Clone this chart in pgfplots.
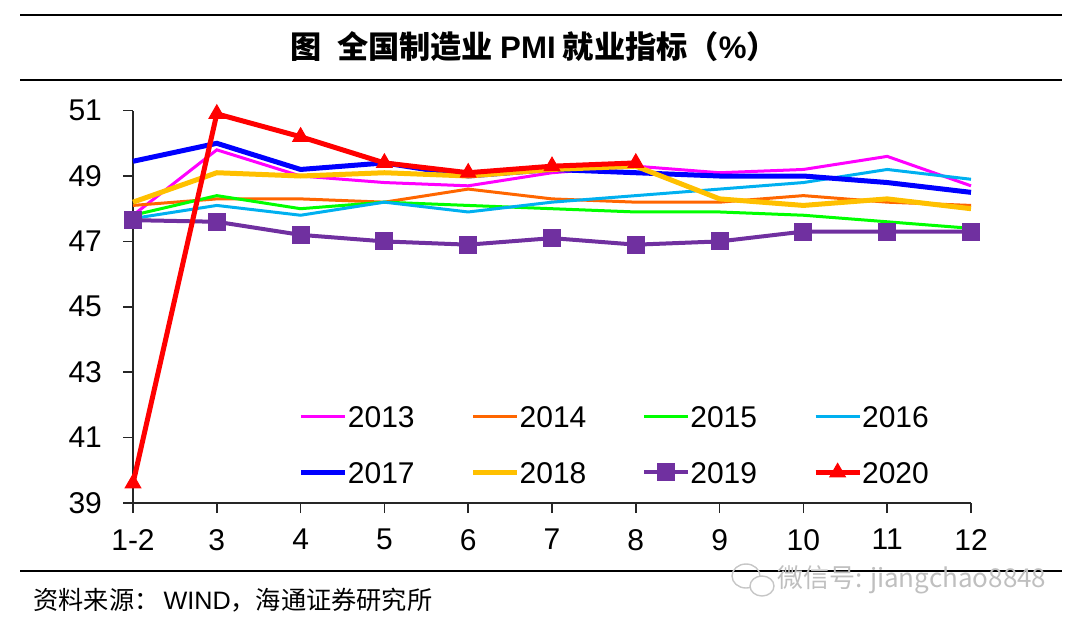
\documentclass[border=0pt]{standalone}
\usepackage{fontspec}
\setmainfont{Liberation Sans}
\newfontfamily\cjk{Noto Sans CJK SC}
\usepackage{pgfplots}
\pgfplotsset{compat=1.18}
\definecolor{c13}{HTML}{FF00FF}
\definecolor{c14}{HTML}{FF6600}
\definecolor{c15}{HTML}{00FF00}
\definecolor{c16}{HTML}{00B0F0}
\definecolor{c17}{HTML}{0000FF}
\definecolor{c18}{HTML}{FFC000}
\definecolor{c19}{HTML}{7030A0}
\definecolor{c20}{HTML}{FF0000}
\begin{document}
\begin{tikzpicture}
\useasboundingbox (0,0) rectangle (540pt,-315.5pt);
\draw[line width=1pt] (10pt,-7.5pt) -- (531pt,-7.5pt);
\draw[line width=1pt] (10pt,-40pt) -- (531pt,-40pt);
\draw[line width=1pt] (10pt,-285.5pt) -- (531pt,-285.5pt);
\node at (267pt,-23.5pt) {\cjk\bfseries\fontsize{15.6pt}{18pt}\selectfont 图\enspace 全国制造业 {\rmfamily\bfseries PMI} 就业指标（{\rmfamily\bfseries\%}）};
\node[anchor=west, inner sep=0pt] at (16.5pt,-300pt) {\cjk\fontsize{12.6pt}{14pt}\selectfont 资料来源：\,{\rmfamily WIND}，海通证券研究所};
\draw[gray!45, line width=0.7pt] (373pt,-288pt) ellipse (7pt and 6pt);
\draw[gray!45, line width=0.7pt, fill=white] (381pt,-293pt) ellipse (6pt and 5pt);
\node[anchor=west, text=gray!50] at (385pt,-290pt) {\cjk\fontsize{13pt}{15pt}\selectfont 微信号: jiangchao8848};
\begin{axis}[
  at={(66.5pt,-251.5pt)}, anchor=south west,
  width=419pt, height=196.2pt, scale only axis,
  xmin=0, xmax=10, ymin=39, ymax=51,
  axis x line=bottom, axis y line=left,
  axis line style={-, line width=0.8pt, black!85},
  xtick={0,...,10}, xticklabels={1-2,3,4,5,6,7,8,9,10,11,12},
  ytick={39,41,...,51},
  tick align=outside, major tick length=5pt,
  tick style={line width=0.8pt, black!85},
  ticklabel style={font=\fontsize{15pt}{18pt}\selectfont},
  yticklabel style={xshift=-7pt},
  xticklabel style={yshift=-4.5pt},
  /pgf/number format/assume math mode=true,
  clip=false,
  legend columns=4,
  legend cell align=left,
  legend image code/.code={\draw[mark repeat=2,mark phase=2,#1] plot coordinates {(0pt,0pt) (11pt,0pt) (22pt,0pt)};},
  legend style={draw=none, fill=none, at={(0.1975,0.2498)}, anchor=north west, inner sep=0pt,
    font=\fontsize{15pt}{18pt}\selectfont, row sep=17pt,
    nodes={inner sep=0pt, text height=11pt, text depth=0pt},
    /tikz/every odd column/.append style={column sep=0pt},
    /tikz/every even column/.append style={column sep=28pt}},
]
\addplot[c13, line width=1.5pt, mark=none] coordinates {(0,47.8) (1,49.8) (2,49.0) (3,48.8) (4,48.7) (5,49.1) (6,49.3) (7,49.1) (8,49.2) (9,49.6) (10,48.7)};
\addlegendentry{2013}
\addplot[c14, line width=1.5pt, mark=none] coordinates {(0,48.1) (1,48.3) (2,48.3) (3,48.2) (4,48.6) (5,48.3) (6,48.2) (7,48.2) (8,48.4) (9,48.2) (10,48.1)};
\addlegendentry{2014}
\addplot[c15, line width=1.5pt, mark=none] coordinates {(0,47.8) (1,48.4) (2,48.0) (3,48.2) (4,48.1) (5,48.0) (6,47.9) (7,47.9) (8,47.8) (9,47.6) (10,47.4)};
\addlegendentry{2015}
\addplot[c16, line width=1.5pt, mark=none] coordinates {(0,47.7) (1,48.1) (2,47.8) (3,48.2) (4,47.9) (5,48.2) (6,48.4) (7,48.6) (8,48.8) (9,49.2) (10,48.9)};
\addlegendentry{2016}
\addplot[c17, line width=2.5pt, mark=none] coordinates {(0,49.45) (1,50.0) (2,49.2) (3,49.4) (4,49.0) (5,49.2) (6,49.1) (7,49.0) (8,49.0) (9,48.8) (10,48.5)};
\addlegendentry{2017}
\addplot[c18, line width=2.5pt, mark=none] coordinates {(0,48.2) (1,49.1) (2,49.0) (3,49.1) (4,49.0) (5,49.2) (6,49.3) (7,48.3) (8,48.1) (9,48.3) (10,48.0)};
\addlegendentry{2018}
\addplot[c19, line width=2pt, mark=square*, mark size=3.5pt, mark options={solid}] coordinates {(0,47.65) (1,47.6) (2,47.2) (3,47.0) (4,46.9) (5,47.1) (6,46.9) (7,47.0) (8,47.3) (9,47.3) (10,47.3)};
\addlegendentry{2019}
\addplot[c20, line width=2.5pt, mark=triangle*, mark size=4.5pt, mark options={solid, line width=0.5pt}] coordinates {(0,39.6) (1,50.9) (2,50.2) (3,49.4) (4,49.1) (5,49.3) (6,49.4)};
\addlegendentry{2020}
\end{axis}
\end{tikzpicture}
\end{document}
